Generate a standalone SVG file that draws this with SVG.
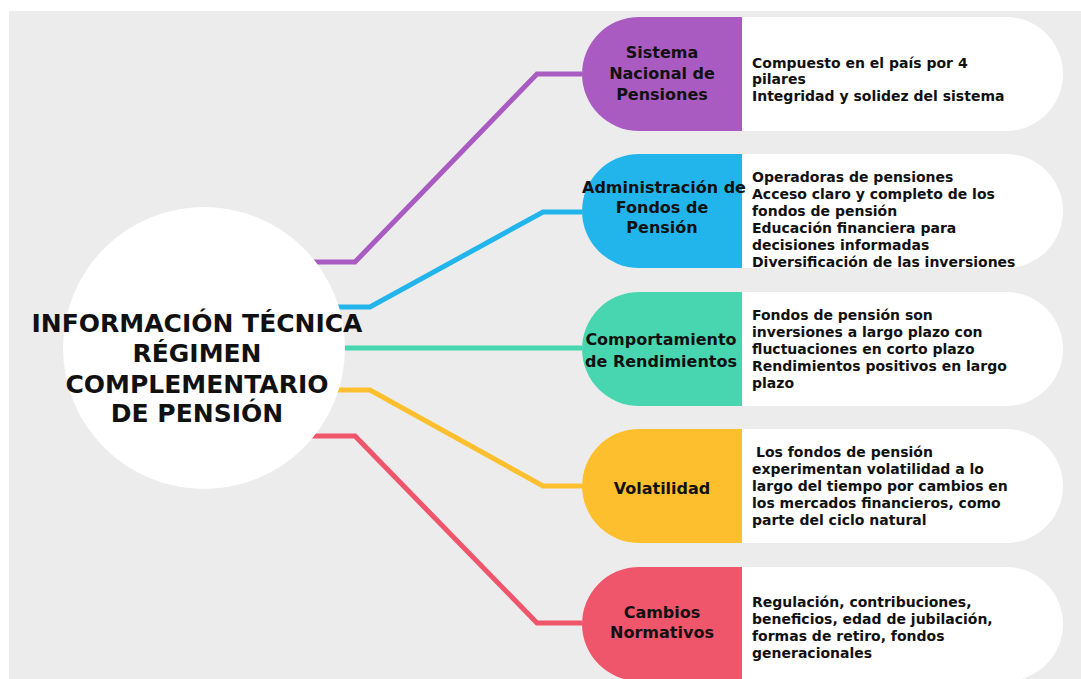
<svg xmlns="http://www.w3.org/2000/svg" width="1081" height="679" viewBox="0 0 1081 679">
  <style>
    .edge { fill: none; stroke-width: 5; stroke-linejoin: miter; }
    .card { fill: #ffffff; }
    .label { font-family: "DejaVu Sans", sans-serif; font-weight: bold; font-size: 16px; fill: #111111; text-anchor: middle; }
    .desc { font-family: "DejaVu Sans", sans-serif; font-weight: bold; font-size: 14px; fill: #111111; }
    .title { font-family: "DejaVu Sans", sans-serif; font-weight: bold; font-size: 25px; fill: #111111; text-anchor: middle; }
  </style>

  <!-- page background -->
  <rect x="0" y="0" width="1081" height="679" fill="#ffffff"/>
  <rect x="9" y="11" width="1072" height="668" fill="#ececec"/>

  <!-- connectors from the hub to each topic -->
  <g id="connectors">
    <polyline class="edge" stroke="#a95bc2" points="300,262 355,262 537,74 585,74"/>
    <polyline class="edge" stroke="#22b5ec" points="300,307 370,307 543,212 585,212"/>
    <polyline class="edge" stroke="#47d6b0" points="300,348 585,348"/>
    <polyline class="edge" stroke="#fdbf2d" points="300,390 370,390 543,486 585,486"/>
    <polyline class="edge" stroke="#ef556b" points="300,436 355,436 537,623 585,623"/>
  </g>

  <!-- central hub -->
  <g id="hub">
    <circle cx="204" cy="348" r="141" fill="#ffffff"/>
    <text class="title" x="197" y="332">INFORMACIÓN TÉCNICA</text>
    <text class="title" x="197" y="362">RÉGIMEN</text>
    <text class="title" x="197" y="393">COMPLEMENTARIO</text>
    <text class="title" x="197" y="422">DE PENSIÓN</text>
  </g>

  <!-- topic 1 -->
  <g id="sistema-nacional">
    <rect class="card" x="582" y="17" width="481" height="114" rx="57" ry="57"/>
    <path d="M742,17 H639 A57,57 0 0 0 639,131 H742 Z" fill="#a95bc2"/>
    <text class="label" x="662" y="58">Sistema</text>
    <text class="label" x="662" y="79">Nacional de</text>
    <text class="label" x="662" y="100">Pensiones</text>
    <text class="desc" x="752" y="68">Compuesto en el país por 4</text>
    <text class="desc" x="752" y="84">pilares</text>
    <text class="desc" x="752" y="101">Integridad y solidez del sistema</text>
  </g>

  <!-- topic 2 -->
  <g id="administracion-fondos">
    <rect class="card" x="582" y="154" width="481" height="114" rx="57" ry="57"/>
    <path d="M742,154 H639 A57,57 0 0 0 639,268 H742 Z" fill="#22b5ec"/>
    <text class="label" x="664" y="193">Administración de</text>
    <text class="label" x="662" y="213">Fondos de</text>
    <text class="label" x="662" y="233">Pensión</text>
    <text class="desc" x="752" y="182">Operadoras de pensiones</text>
    <text class="desc" x="752" y="199">Acceso claro y completo de los</text>
    <text class="desc" x="752" y="216">fondos de pensión</text>
    <text class="desc" x="752" y="233">Educación financiera para</text>
    <text class="desc" x="752" y="250">decisiones informadas</text>
    <text class="desc" x="752" y="267">Diversificación de las inversiones</text>
  </g>

  <!-- topic 3 -->
  <g id="comportamiento-rendimientos">
    <rect class="card" x="582" y="292" width="481" height="114" rx="57" ry="57"/>
    <path d="M742,292 H639 A57,57 0 0 0 639,406 H742 Z" fill="#47d6b0"/>
    <text class="label" x="661" y="345">Comportamiento</text>
    <text class="label" x="661" y="367">de Rendimientos</text>
    <text class="desc" x="752" y="320">Fondos de pensión son</text>
    <text class="desc" x="752" y="337">inversiones a largo plazo con</text>
    <text class="desc" x="752" y="354">fluctuaciones en corto plazo</text>
    <text class="desc" x="752" y="371">Rendimientos positivos en largo</text>
    <text class="desc" x="752" y="388">plazo</text>
  </g>

  <!-- topic 4 -->
  <g id="volatilidad">
    <rect class="card" x="582" y="429" width="481" height="114" rx="57" ry="57"/>
    <path d="M742,429 H639 A57,57 0 0 0 639,543 H742 Z" fill="#fdbf2d"/>
    <text class="label" x="662" y="494">Volatilidad</text>
    <text class="desc" x="756" y="457">Los fondos de pensión</text>
    <text class="desc" x="752" y="474">experimentan volatilidad a lo</text>
    <text class="desc" x="752" y="491">largo del tiempo por cambios en</text>
    <text class="desc" x="752" y="508">los mercados financieros, como</text>
    <text class="desc" x="752" y="525">parte del ciclo natural</text>
  </g>

  <!-- topic 5 -->
  <g id="cambios-normativos">
    <rect class="card" x="582" y="567" width="481" height="114" rx="57" ry="57"/>
    <path d="M742,567 H639 A57,57 0 0 0 639,681 H742 Z" fill="#ef556b"/>
    <text class="label" x="662" y="618">Cambios</text>
    <text class="label" x="662" y="638">Normativos</text>
    <text class="desc" x="752" y="607">Regulación, contribuciones,</text>
    <text class="desc" x="752" y="624">beneficios, edad de jubilación,</text>
    <text class="desc" x="752" y="641">formas de retiro, fondos</text>
    <text class="desc" x="752" y="658">generacionales</text>
  </g>
</svg>
